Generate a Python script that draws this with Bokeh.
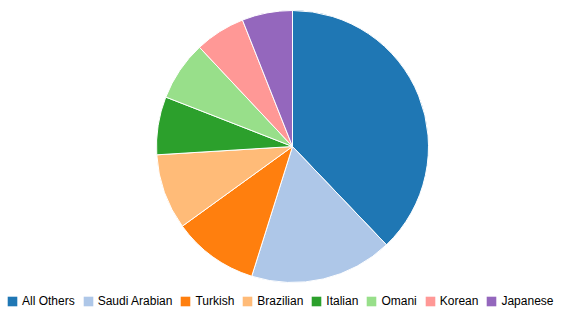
import math
from bokeh.plotting import figure
from bokeh.models import ColumnDataSource, Legend, LegendItem, Range1d
from bokeh.embed import file_html
from bokeh.resources import INLINE

categories = ["All Others", "Saudi Arabian", "Turkish", "Brazilian", "Italian", "Omani", "Korean", "Japanese"]
values = [37.9, 17.0, 10.2, 9.0, 6.9, 7.1, 6.0, 6.0]
colors = ["#1f77b4", "#aec7e8", "#ff7f0e", "#ffbb78", "#2ca02c", "#98df8a", "#ff9896", "#9467bd"]

W, H = 577, 317
total = sum(values)
starts, ends = [], []
acc = 0.0
for v in values:
    a0 = math.pi / 2 - 2 * math.pi * acc / total
    acc += v
    a1 = math.pi / 2 - 2 * math.pi * acc / total
    starts.append(a0)
    ends.append(a1)

src = ColumnDataSource(dict(cat=categories, val=values, color=colors, start=starts, end=ends))

p = figure(width=W, height=H, output_backend="svg", toolbar_location=None,
           x_range=Range1d(0, W), y_range=Range1d(0, H), min_border=0)
p.axis.visible = False
p.grid.visible = False
p.outline_line_color = None
p.background_fill_color = "white"
p.border_fill_color = "white"

p.wedge(x=292, y=H - 146, radius=136, start_angle="start", end_angle="end",
        direction="clock", fill_color="color", line_color="white", line_width=1, source=src)

items = []
for c, col in zip(categories, colors):
    r = p.quad(left=[float("nan")], right=[float("nan")], bottom=[float("nan")], top=[float("nan")],
               fill_color=col, line_color=None)
    items.append(LegendItem(label=c, renderers=[r]))

legend = Legend(items=items, orientation="horizontal", location=(6, 9),
                glyph_width=12, glyph_height=12, label_standoff=4, spacing=7,
                padding=0, margin=0, border_line_color=None, background_fill_alpha=0,
                label_text_font="Liberation Sans", label_text_font_size="12px",
                label_text_color="#000000", label_height=12)
p.add_layout(legend, "center")

open("out.html", "w").write(file_html(p, INLINE))
